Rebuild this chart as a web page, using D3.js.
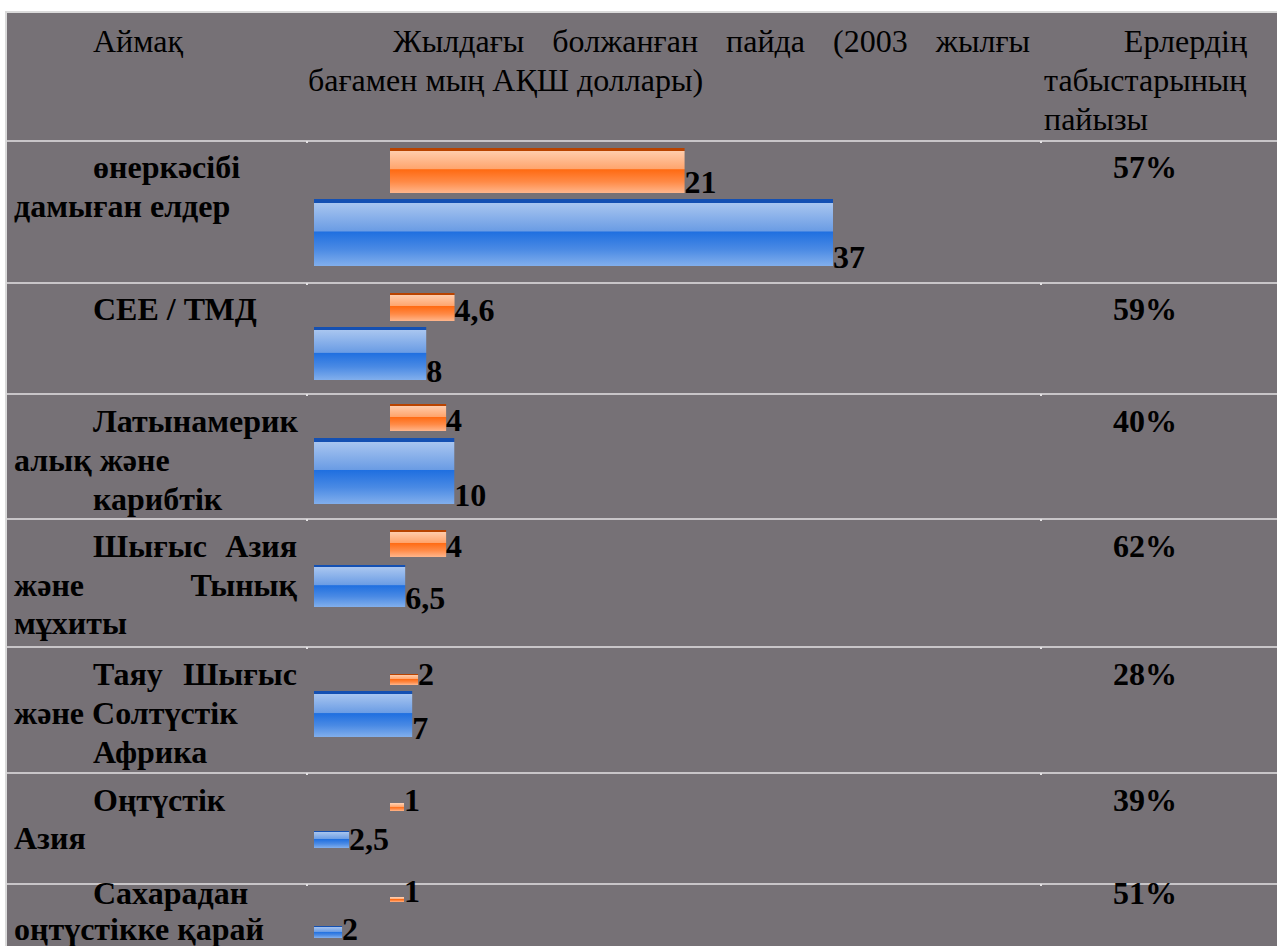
<!DOCTYPE html>
<html><head><meta charset="utf-8">
<script src="https://cdn.jsdelivr.net/npm/d3@7/dist/d3.min.js"></script>
<style>html,body{margin:0;padding:0;background:#fff}svg{display:block}</style>
</head><body>
<script>
// ---------- DATA ----------
const regionLines = [
  [["өнеркәсібі",1,0],["дамыған елдер",0,0]],
  [["СЕЕ / ТМД",1,0]],
  [["Латынамерик",1,0],["алық және",0,0],["карибтік",1,0]],
  [["Шығыс Азия",1,1],["және Тынық",0,1],["мұхиты",0,0]],
  [["Таяу Шығыс",1,1],["және Солтүстік",0,0],["Африка",1,0]],
  [["Оңтүстік",1,0],["Азия",0,0]],
  [["Сахарадан",1,0],["оңтүстікке қарай",0,0]]
];
const womenIncome = [21, 4.6, 4, 4, 2, 1, 1];
const menIncome   = [37, 8, 10, 6.5, 7, 2.5, 2];
const menShare    = [57, 59, 40, 62, 28, 39, 51];
const headerRegion = "Аймақ";
const headerIncome = ["Жылдағы болжанған пайда (2003 жылғы", "бағамен мың АҚШ доллары)"];
const headerShare  = ["Ерлердің", "табыстарының", "пайызы"];

// ---------- LAYOUT ----------
const W = 1277, H = 946;
const tableLeft = 7, tableTop = 13, headerH = 128;
const rowHeights = [142, 111, 125, 128, 126, 111, 80];
const rowFirstBase = [37, 37, 38, 38, 38, 38, 20];
const rowLineH = [39, 39, 39, 38.5, 39, 38, 36];
// per row: women bar baseline & height, men bar baseline & height (relative to row top)
const barLayout = [
  {wb:52, wh:45, mb:125, mh:67},
  {wb:38, wh:28, mb:97,  mh:53},
  {wb:37, wh:27, mb:110, mh:66},
  {wb:38, wh:27, mb:88,  mh:42},
  {wb:38, wh:11, mb:90,  mh:46},
  {wb:38, wh:8,  mb:75,  mh:17},
  {wb:18, wh:5,  mb:54,  mh:12}
];
const col1X = 14, col1Indent = 79, col1Right = 297;
const col2X = 307, col3X = 1041;
const womenX0 = 390, menX0 = 314;
const fontFam = "'Liberation Serif','Times New Roman',serif";
const fs = 32;

const svg = d3.select("body").append("svg").attr("width", W).attr("height", H);
const defs = svg.append("defs");
function grad(id, stops){
  const g = defs.append("linearGradient").attr("id", id).attr("x1",0).attr("y1",0).attr("x2",0).attr("y2",1);
  stops.forEach(s => g.append("stop").attr("offset", s[0]).attr("stop-color", s[1]));
}
grad("gOrange", [[0,"#b84300"],[0.06,"#b84300"],[0.06,"#ffcdad"],[0.47,"#ffa46c"],[0.48,"#ff6a12"],[0.75,"#ff8a46"],[1,"#ffb68c"]]);
grad("gBlue",   [[0,"#1450b2"],[0.055,"#1450b2"],[0.055,"#a9c6f0"],[0.48,"#6a9ce4"],[0.49,"#1f6fe0"],[0.75,"#4a8ae4"],[1,"#82afec"]]);

svg.append("rect").attr("x",0).attr("y",0).attr("width",W).attr("height",H).attr("fill","#fff");
svg.append("rect").attr("x",tableLeft-2).attr("y",tableTop-2).attr("width",W).attr("height",H).attr("fill","#dadada");
svg.append("rect").attr("x",tableLeft).attr("y",tableTop).attr("width",W).attr("height",H).attr("fill","#767176");

const rowTops = [];
let acc = tableTop + headerH;
rowHeights.forEach(h => { rowTops.push(acc); acc += h; });

// dividers
rowTops.forEach(t => {
  svg.append("line").attr("x1",tableLeft).attr("x2",W).attr("y1",t).attr("y2",t)
    .attr("stroke","#e4e2e4").attr("stroke-width",1.5);
  [col2X, col3X].forEach(cx => svg.append("rect").attr("x",cx-1).attr("y",t).attr("width",2).attr("height",2).attr("fill","#e4e2e4"));
});

function txt(x, y, s, bold, anchor){
  return svg.append("text").attr("x",x).attr("y",y).text(s)
    .attr("font-family",fontFam).attr("font-size",fs)
    .attr("font-weight",bold?"bold":"normal").attr("fill","#000")
    .attr("text-anchor",anchor||"start");
}
function justified(x0, x1, y, s, bold){
  const words = s.split(" ");
  const nodes = words.map(w => txt(0, y, w, bold));
  const widths = nodes.map(n => n.node().getComputedTextLength());
  const total = d3.sum(widths);
  const gap = words.length > 1 ? (x1 - x0 - total) / (words.length - 1) : 0;
  let x = x0;
  nodes.forEach((n,i) => { n.attr("x", x); x += widths[i] + gap; });
}

// header
const hBase = tableTop + 39, hLine = 39;
txt(col1X + col1Indent, hBase, headerRegion, false);
justified(393, 1030, hBase, headerIncome[0], false);
txt(col2X + 1, hBase + hLine, headerIncome[1], false);
txt(1247, hBase, headerShare[0], false, "end");
txt(1044, hBase + hLine, headerShare[1], false);
txt(1044, hBase + 2*hLine, headerShare[2], false);

// scales
const xW = d3.scaleLinear().domain([0, 37]).range([womenX0, womenX0 + 519]);
const xM = d3.scaleLinear().domain([0, 37]).range([menX0, menX0 + 519]);
const fmt = v => d3.format("~g")(v).replace(".", ",");

regionLines.forEach((lines, i) => {
  const top = rowTops[i];
  lines.forEach((ln, j) => {
    const y = top + rowFirstBase[i] + j*rowLineH[i];
    const x0 = col1X + (ln[1] ? col1Indent : 0);
    if (ln[2]) justified(x0, col1Right, y, ln[0], true);
    else txt(x0, y, ln[0], true);
  });
  const L = barLayout[i];
  // women bar
  svg.append("rect").attr("x", xW(0)).attr("y", top + L.wb - L.wh)
    .attr("width", xW(womenIncome[i]) - xW(0)).attr("height", L.wh).attr("fill","url(#gOrange)");
  txt(xW(womenIncome[i]), top + L.wb, fmt(womenIncome[i]), true);
  // men bar
  svg.append("rect").attr("x", xM(0)).attr("y", top + L.mb - L.mh)
    .attr("width", xM(menIncome[i]) - xM(0)).attr("height", L.mh).attr("fill","url(#gBlue)");
  txt(xM(menIncome[i]), top + L.mb + 2, fmt(menIncome[i]), true);
  // share
  txt(1113, top + rowFirstBase[i], menShare[i] + "%", true);
});
</script>
</body></html>
